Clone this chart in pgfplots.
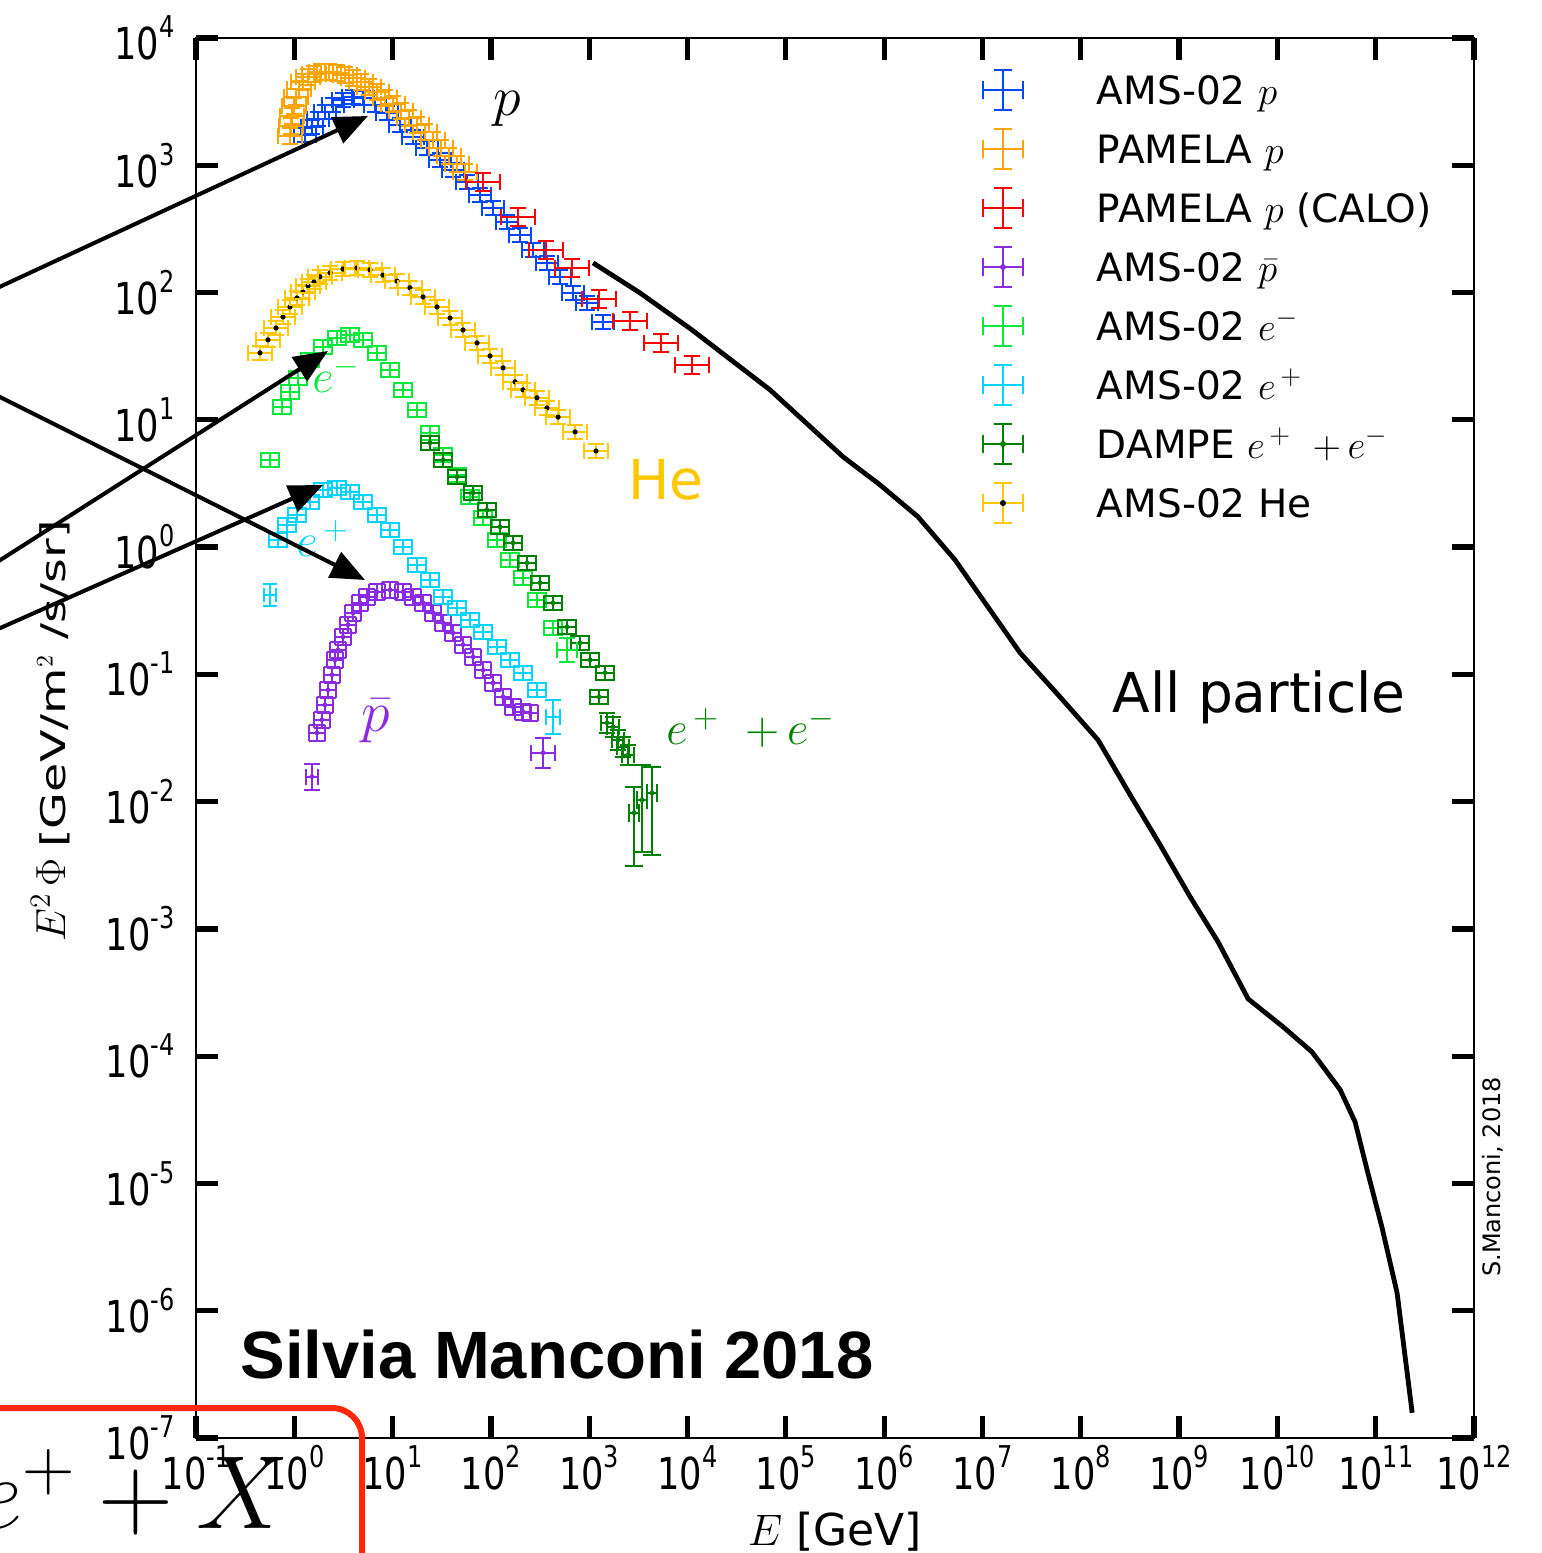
\RequirePackage{fix-cm}
\documentclass[border=0pt]{standalone}
\usepackage[no-math]{fontspec}
\setmainfont{DejaVu Sans}
\newfontfamily\condfont[FakeStretch=0.8]{DejaVu Sans}
\newfontfamily\ylabfont[FakeStretch=1.4]{DejaVu Sans}
\newfontfamily\helv{Liberation Sans}
\usepackage{pgfplots}
\pgfplotsset{compat=1.18}
\usepackage{pgfplotstable}
\usetikzlibrary{arrows.meta}

\definecolor{cblue}{RGB}{0,72,255}
\definecolor{corange}{RGB}{255,165,0}
\definecolor{cred}{RGB}{255,0,0}
\definecolor{cpurple}{RGB}{138,43,226}
\definecolor{cgreen}{RGB}{10,232,60}
\definecolor{ccyan}{RGB}{0,212,255}
\definecolor{cdgreen}{RGB}{0,128,0}
\definecolor{che}{RGB}{255,200,0}
\definecolor{cbox}{RGB}{255,40,10}

% error-bar like cross: horizontal bar with caps, vertical bar with caps
\pgfkeys{/eb/.is family, /eb/.cd,
  w/.store in=\ebw, hu/.store in=\ebhu, hd/.store in=\ebhd,
  h/.style={/eb/hu=#1,/eb/hd=#1}, c/.store in=\ebc,
  d/.store in=\ebd, dc/.store in=\ebdc}
\pgfkeys{/eb/w=3pt,/eb/h=3pt,/eb/c=3pt,/eb/d=0pt,/eb/dc=black}
\pgfdeclareplotmark{ebar}{%
  \pgfpathmoveto{\pgfpoint{-\ebw}{0pt}}\pgfpathlineto{\pgfpoint{\ebw}{0pt}}%
  \pgfpathmoveto{\pgfpoint{-\ebw}{-\ebc}}\pgfpathlineto{\pgfpoint{-\ebw}{\ebc}}%
  \pgfpathmoveto{\pgfpoint{\ebw}{-\ebc}}\pgfpathlineto{\pgfpoint{\ebw}{\ebc}}%
  \pgfpathmoveto{\pgfpoint{0pt}{-\ebhd}}\pgfpathlineto{\pgfpoint{0pt}{\ebhu}}%
  \pgfpathmoveto{\pgfpoint{-\ebc}{-\ebhd}}\pgfpathlineto{\pgfpoint{\ebc}{-\ebhd}}%
  \pgfpathmoveto{\pgfpoint{-\ebc}{\ebhu}}\pgfpathlineto{\pgfpoint{\ebc}{\ebhu}}%
  \pgfusepathqstroke
  \ifdim\ebd>0pt
    \pgfscope\pgfpathcircle{\pgfpointorigin}{\ebd}\pgfsetfillcolor{\ebdc}\pgfusepathqfill\endpgfscope
  \fi}

\pgfplotsset{ebleg/.style 2 args={legend image code/.code={%
  \path[draw=none, fill=none] (0pt,-8pt) rectangle (57pt,12pt);
  \draw[##1, line width=1.4pt, mark options={/eb/w=10pt,/eb/h=10pt,/eb/c=4.5pt,/eb/d=#1,/eb/dc=#2}]
    plot coordinates {(10pt,2pt)};}}}

\newcommand{\tl}[1]{{\condfont\fontsize{22}{22}\selectfont 10\raisebox{0.5em}{\fontsize{15}{15}\selectfont #1}}}

% AMS-02 p
\pgfplotstableread{
x y
1.28 1730
1.51 2000
1.74 2310
2.05 2620
2.48 2980
3.13 3260
3.95 3440
5.00 3380
6.62 2980
8.77 2580
11.9 2070
16.1 1670
22.4 1370
30.3 1100
41.1 919
57.1 740
77.4 585
105 462
146 359
198 283
268 216
372 171
505 133
684 99.3
951 82.8
1380 58.7
}\amsp
% PAMELA p
\pgfplotstableread{
x y
0.904 1700
0.925 2035
0.948 2440
0.993 2920
1.04 3440
1.12 3980
1.225 4510
1.38 4940
1.585 5210
1.87 5410
2.25 5410
2.72 5310
3.28 5120
3.95 4850
4.77 4510
5.75 4120
6.93 3770
8.37 3380
10.1 3030
12.2 2670
14.7 2350
17.7 2070
21.4 1830
25.8 1580
31.0 1370
37.5 1180
45.2 1020
54.5 885
}\pamp
% PAMELA p (CALO)
\pgfplotstableread{
x y
83.2 740
189 393
364 216
668 156
1259 89.1
2600 59.8
5370 40.2
11120 27.0
}\pamcalo
% AMS-02 pbar
\pgfplotstableread{
x y
1.70 0.0347
1.91 0.0440
2.05 0.0575
2.20 0.0755
2.42 0.0991
2.59 0.130
2.79 0.156
3.13 0.197
3.52 0.245
3.95 0.304
4.66 0.365
5.50 0.406
6.93 0.445
9.42 0.461
12.8 0.445
16.1 0.406
20.4 0.365
25.8 0.304
32.6 0.254
41.1 0.212
52.0 0.171
65.8 0.137
83.2 0.108
105 0.0857
133 0.0665
168 0.0556
212 0.0507
250 0.0499
}\pbar
% AMS-02 e-
\pgfplotstableread{
x y
0.566 4.84
0.750 12.6
0.904 16.6
1.09 21.3
1.45 29.6
1.96 37.4
2.72 44.0
3.69 46.5
5.00 42.5
6.93 33.6
9.42 24.7
12.8 17.2
17.7 12.0
24.0 7.89
32.6 5.30
45.2 3.69
61.2 2.48
83.2 1.69
115 1.14
156 0.793
212 0.573
294 0.385
428 0.232
}\elec
% AMS-02 e+
\pgfplotstableread{
x y
0.682 1.14
0.843 1.49
1.065 1.79
1.45 2.26
1.96 2.81
2.72 2.92
3.69 2.71
5.00 2.26
6.93 1.79
9.42 1.36
12.8 1.00
17.7 0.725
24.0 0.552
32.6 0.406
45.2 0.333
61.2 0.268
83.2 0.216
115 0.164
156 0.130
212 0.103
294 0.0755
}\posi
% DAMPE e+ + e-
\pgfplotstableread{
x y
24.0 6.59
32.6 4.84
45.2 3.56
65.8 2.67
91.2 1.96
124 1.44
168 1.08
233 0.752
316 0.524
428 0.365
594 0.236
805 0.177
1019 0.130
1449 0.103
1259 0.0665
}\dampe
\pgfplotstableread{
x y
1517 0.0416
1746 0.0387
1963 0.0305
2208 0.0269
2483 0.0233
}\dampehi
% AMS-02 He
\pgfplotstableread{
x y
0.448 33.6
0.54 42.5
0.652 52.7
0.767 64.3
0.904 77.1
1.065 90.7
1.225 101
1.38 113
1.585 121
1.82 133
2.31 143
3.13 153
4.34 156
5.89 151
7.98 137
11.1 123
15.0 109
20.4 92.3
28.3 77.1
38.4 63.1
52.0 50.8
72.3 40.2
97.9 31.8
133 25.6
176 19.9
212 17.2
294 14.9
372 12.4
482 10.5
718 8.04
1172 5.70
}\helium
% all particle
\pgfplotstableread{
x y
1094 171
3289 99.3
11120 50.8
69000 17.2
382000 5.12
908000 3.08
2.21e6 1.73
5.26e6 0.793
1.194e7 0.321
2.41e7 0.148
6.15e7 0.0665
1.50e8 0.0305
3.18e8 0.0113
6.41e8 4.58e-3
1.294e9 1.79e-3
2.49e9 7.92e-4
5.04e9 2.82e-4
1.143e10 1.70e-4
2.25e10 1.08e-4
4.35e10 5.45e-5
6.17e10 3.05e-5
8.17e10 1.28e-5
1.161e11 4.49e-6
1.651e11 1.38e-6
2.35e11 1.58e-7
}\allpart

\begin{document}
\begin{tikzpicture}
\useasboundingbox (-98pt,-57.5pt) rectangle (673pt,719pt);
\begin{axis}[
  xmode=log, ymode=log,
  scale only axis, width=639pt, height=700pt,
  xmin=1e-1, xmax=1e12, ymin=1e-7, ymax=1e4,
  xtick={1e-1,1e0,1e1,1e2,1e3,1e4,1e5,1e6,1e7,1e8,1e9,1e10,1e11,1e12},
  xticklabels={\tl{-1},\tl{0},\tl{1},\tl{2},\tl{3},\tl{4},\tl{5},\tl{6},\tl{7},\tl{8},\tl{9},\tl{10},\tl{11},\tl{12}},
  ytick={1e-7,1e-6,1e-5,1e-4,1e-3,1e-2,1e-1,1e0,1e1,1e2,1e3,1e4},
  yticklabels={\tl{-7},\tl{-6},\tl{-5},\tl{-4},\tl{-3},\tl{-2},\tl{-1},\tl{0},\tl{1},\tl{2},\tl{3},\tl{4}},
  xminorticks=false, yminorticks=false,
  tick align=inside, major tick length=11pt,
  tick style={black, line width=2.6pt},
  axis line style={line width=1.2pt},
  xticklabel style={anchor=north, inner sep=0pt, yshift=-3.5pt},
  yticklabel style={anchor=east, inner sep=0pt, xshift=-10.5pt},
  xlabel={$E$ [GeV]},
  xlabel style={at={(axis description cs:0.5,0)}, anchor=base, yshift=-53.5pt, font=\fontsize{22}{24}\selectfont},
  ylabel={{\fontsize{21}{22}\selectfont$E^2\,\Phi$} {\ylabfont [GeV/m$^2$ /s/sr]}},
  ylabel style={at={(axis description cs:-0.1025,0.505)}, anchor=base, font=\fontsize{17}{20}\selectfont},
  legend style={at={(0.6158,0.9771)}, anchor=north west, draw=none, fill=none,
    inner sep=0pt, outer sep=0pt, row sep=8.5pt, column sep=0pt,
    font=\fontsize{19.5}{23}\selectfont,
    nodes={inner sep=0pt, text height=14pt, text depth=4pt}},
  legend cell align=left,
]
\addplot[black, line width=2.4pt, forget plot] table {\allpart};

\addplot[only marks, cblue, line width=1.2pt, mark=ebar,
  mark options={/eb/w=5.5pt,/eb/h=3.5pt,/eb/c=4pt}, ebleg={0pt}{black}] table {\amsp};
\addlegendentry{AMS-02 $p$}
\addplot[only marks, corange, line width=1.2pt, mark=ebar,
  mark options={/eb/w=6pt,/eb/h=4pt,/eb/c=4pt}, ebleg={0pt}{black}] table {\pamp};
\addlegendentry{PAMELA $p$}
\addplot[only marks, cred, line width=1.2pt, mark=ebar,
  mark options={/eb/w=8.5pt,/eb/h=4.5pt,/eb/c=4pt}, ebleg={0pt}{black}] table {\pamcalo};
\addlegendentry{PAMELA $p$ (CALO)}
\addplot[only marks, cpurple, line width=1.2pt, mark=ebar,
  mark options={/eb/w=4pt,/eb/h=4pt,/eb/c=4pt,/eb/d=1.2pt,/eb/dc=cpurple}, ebleg={1.5pt}{cpurple}] table {\pbar};
\addlegendentry{AMS-02 $\bar{p}$}
\addplot[only marks, cgreen, line width=1.2pt, mark=ebar,
  mark options={/eb/w=4.5pt,/eb/h=3.5pt,/eb/c=4pt}, ebleg={0pt}{black}] table {\elec};
\addlegendentry{AMS-02 $e^{-}$}
\addplot[only marks, ccyan, line width=1.2pt, mark=ebar,
  mark options={/eb/w=4.5pt,/eb/h=3.5pt,/eb/c=4pt}, ebleg={0pt}{black}] table {\posi};
\addlegendentry{AMS-02 $e^{\,+}$}
\addplot[only marks, cdgreen, line width=1.2pt, mark=ebar,
  mark options={/eb/w=4.5pt,/eb/h=3.5pt,/eb/c=4pt,/eb/d=1.2pt,/eb/dc=cdgreen}, ebleg={1.5pt}{cdgreen}] table {\dampe};
\addlegendentry{DAMPE $e^{\,+}\;\;{+}\,e^{-}$}
\addplot[only marks, che, line width=1.2pt, mark=ebar,
  mark options={/eb/w=6pt,/eb/h=3.5pt,/eb/c=4pt,/eb/d=1.3pt,/eb/dc=black}, ebleg={1.5pt}{black}] table {\helium};
\addlegendentry{AMS-02 He}

% points with larger error bars
\addplot[only marks, cpurple, line width=1.2pt, mark=ebar, forget plot,
  mark options={/eb/w=3pt,/eb/h=6.5pt,/eb/c=4pt,/eb/d=1.2pt,/eb/dc=cpurple}] coordinates {(1.51,0.0157)};
\addplot[only marks, cpurple, line width=1.2pt, mark=ebar, forget plot,
  mark options={/eb/w=6pt,/eb/h=7.5pt,/eb/c=4pt,/eb/d=1.2pt,/eb/dc=cpurple}] coordinates {(339,0.0242)};
\addplot[only marks, cgreen, line width=1.2pt, mark=ebar, forget plot,
  mark options={/eb/w=5pt,/eb/h=6pt,/eb/c=4pt}] coordinates {(594,0.156)};
\addplot[only marks, ccyan, line width=1.2pt, mark=ebar, forget plot,
  mark options={/eb/w=3pt,/eb/h=5.5pt,/eb/c=3.5pt}] coordinates {(0.566,0.421)};
\addplot[only marks, ccyan, line width=1.2pt, mark=ebar, forget plot,
  mark options={/eb/w=3.5pt,/eb/h=8.5pt,/eb/c=4pt}] coordinates {(428,0.0463)};
\addplot[only marks, cdgreen, line width=1.2pt, mark=ebar, forget plot,
  mark options={/eb/w=3pt,/eb/h=5pt,/eb/c=4pt,/eb/d=1.2pt,/eb/dc=cdgreen}] table {\dampehi};
\addplot[only marks, cdgreen, line width=1.2pt, mark=ebar, forget plot,
  mark options={/eb/w=2.5pt,/eb/hu=13pt,/eb/hd=26.5pt,/eb/c=4.5pt,/eb/d=1.2pt,/eb/dc=cdgreen}] coordinates {(2858,0.00817)};
\addplot[only marks, cdgreen, line width=1.2pt, mark=ebar, forget plot,
  mark options={/eb/w=2.5pt,/eb/hu=17.5pt,/eb/hd=26pt,/eb/c=4.5pt,/eb/d=1.2pt,/eb/dc=cdgreen}] coordinates {(3444,0.0103)};
\addplot[only marks, cdgreen, line width=1.2pt, mark=ebar, forget plot,
  mark options={/eb/w=2.5pt,/eb/hu=13pt,/eb/hd=31pt,/eb/c=4.5pt,/eb/d=1.2pt,/eb/dc=cdgreen}] coordinates {(4355,0.0117)};
\end{axis}

% annotations, coordinates in pixels of the reference
\begin{scope}[x=0.5pt, y=-0.5pt, shift={(-98pt,719pt)}]
\node[anchor=base west, inner sep=0pt] at (493,116) {\fontsize{28}{28}\selectfont$p$};
\node[anchor=base west, inner sep=0pt, text=che] at (628,500) {\fontsize{27.5}{28}\selectfont He};
\node[anchor=base west, inner sep=0pt, text=cgreen] at (312,393) {\fontsize{23.5}{24}\selectfont$e^{-}$};
\node[anchor=base west, inner sep=0pt, text=ccyan] at (296,557) {\fontsize{23.5}{24}\selectfont$e^{\,+}$};
\node[anchor=base west, inner sep=0pt, text=cpurple] at (361,732) {\fontsize{29}{30}\selectfont$\bar{p}$};
\node[anchor=base west, inner sep=0pt, text=cdgreen] at (666,745) {\fontsize{23.5}{24}\selectfont$e^{\,+}\;\;{+}\,e^{-}$};
\node[anchor=base west, inner sep=0pt] at (1112,713) {\fontsize{27.5}{28}\selectfont All particle};
\node[anchor=base west, inner sep=0pt] at (240,1378) {\helv\bfseries\fontsize{33.5}{34}\selectfont Silvia Manconi 2018};
\node[rotate=90, inner sep=0pt] at (1493,1177) {\fontsize{12}{12}\selectfont S.Manconi, 2018};

\draw[line width=2pt, -{Triangle[length=17pt,width=14pt]}] (-20,296) -- (368,116);
\draw[line width=2pt, -{Triangle[length=17pt,width=14pt]}] (-20,387) -- (365,580);
\draw[line width=2pt, -{Triangle[length=17pt,width=14pt]}] (-20,573) -- (328,351);
\draw[line width=2pt, -{Triangle[length=17pt,width=14pt]}] (-20,637) -- (323,485);

\draw[cbox, line width=3pt, rounded corners=15pt] (-20,1408) -- (362,1408) -- (362,1620);
\node[anchor=base east, inner sep=0pt] at (290,1528) {\fontsize{52}{52}\selectfont$e^{+}+X$};
\end{scope}
\end{tikzpicture}
\end{document}
